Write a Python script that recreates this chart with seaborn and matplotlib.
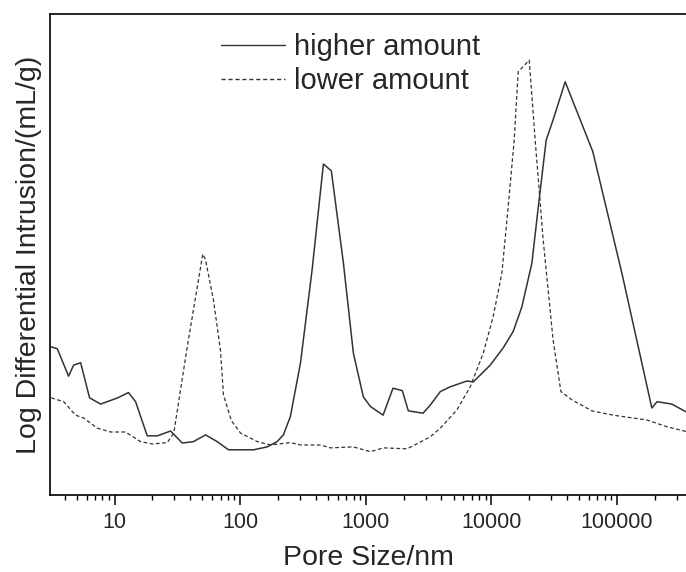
import numpy as np
import pandas as pd
import matplotlib
matplotlib.use("Agg")
import matplotlib.pyplot as plt
from matplotlib import ticker
import seaborn as sns

# pore size (nm) and log differential intrusion (arbitrary units)
high_x = [3.13, 3.50, 4.30, 4.72, 5.37, 6.32, 7.74, 10.6, 12.9, 14.7, 18.2, 21.9, 27.9,
          34.6, 42.5, 53.0, 65.6, 80.7, 110, 128, 164, 197, 221, 251, 302, 374, 460,
          532, 664, 797, 957, 1089, 1374, 1648, 1955, 2183, 2858, 3266, 3926, 4710,
          6397, 7178, 9795, 12440, 14930, 17500, 21040, 23610, 27350, 31050, 38730,
          64270, 109400, 189700, 208900, 273500, 355600]
high_y = [30.8, 30.4, 24.7, 27.0, 27.5, 20.2, 18.9, 20.2, 21.3, 19.4, 12.3, 12.3, 13.3,
          10.8, 11.1, 12.5, 11.1, 9.4, 9.4, 9.4, 10.0, 11.1, 12.5, 16.3, 27.4, 46.8, 68.8,
          67.4, 48.2, 29.5, 20.4, 18.4, 16.6, 22.2, 21.7, 17.5, 17.0, 18.7, 21.5, 22.5,
          23.7, 23.5, 27.0, 30.6, 34.0, 39.1, 48.2, 59.7, 73.8, 78.0, 85.9,
          71.4, 46.2, 18.1, 19.4, 18.9, 17.3]

low_x = [3.13, 3.93, 4.89, 5.67, 7.28, 9.29, 12.2, 16.1, 20.0, 26.3, 29.6, 37.9, 50.4,
         53.0, 61.3, 69.7, 73.6, 85.3, 100.5, 137, 174, 251, 302, 435, 523, 797, 1089,
         1380, 2132, 2718, 3266, 3926, 5324, 6792, 8630, 10350, 12140, 13620, 15210,
         16370, 20040, 22340, 25880, 31050, 35810, 43750, 63100, 93300, 173000,
         249500, 355600]
low_y = [20.2, 19.4, 16.6, 16.0, 13.9, 13.1, 13.1, 11.1, 10.6, 10.9, 12.9, 30.8, 50.1,
         48.9, 40.5, 30.1, 20.8, 15.4, 12.9, 11.1, 10.4, 10.9, 10.4, 10.4, 9.8, 10.0, 9.0,
         9.8, 9.6, 11.0, 12.1, 13.9, 17.7, 22.5, 29.5, 37.1, 46.2, 59.9, 73.8,
         88.0, 90.4, 73.8, 53.0, 32.2, 21.5, 19.8, 17.5, 16.6, 15.6,
         14.2, 13.2]

labels = ["higher amount", "lower amount"]
major_ticks = [10, 100, 1000, 10000, 100000]

sns.set_style("ticks")
plt.rcParams["font.family"] = ["Liberation Sans", "DejaVu Sans"]

fig = plt.figure(figsize=(6.86, 5.72), dpi=100)
ax = fig.add_axes([50 / 686, 1 - 495 / 572, 636 / 686, 481 / 572])

df_high = pd.DataFrame({"x": high_x, "y": high_y})
df_low = pd.DataFrame({"x": low_x, "y": low_y})

sns.lineplot(data=df_high, x="x", y="y", ax=ax, color="#333333", linewidth=1.1,
             estimator=None, sort=False, label=labels[0])
sns.lineplot(data=df_low, x="x", y="y", ax=ax, color="#333333", linewidth=0.9,
             dashes=False, estimator=None, sort=False, label=labels[1])
ax.lines[1].set_dashes((3, 2))

ax.set_xscale("log")
ax.set_xlim(3.06, 355000)
ax.set_ylim(0, 100)

ax.xaxis.set_major_locator(ticker.FixedLocator(major_ticks))
ax.xaxis.set_major_formatter(ticker.FuncFormatter(lambda v, p: f"{int(round(v))}"))
ax.xaxis.set_minor_locator(ticker.LogLocator(base=10, subs=np.arange(2, 10), numticks=20))
ax.xaxis.set_minor_formatter(ticker.NullFormatter())
ax.tick_params(axis="x", which="major", length=7, width=1.1, direction="out",
               labelsize=15.5, color="black", pad=5)
ax.tick_params(axis="x", which="minor", length=3.5, width=1.0, direction="out", color="black")
ax.set_yticks([])

for side in ["left", "bottom", "top"]:
    ax.spines[side].set_color("black")
    ax.spines[side].set_linewidth(1.2)
ax.spines["right"].set_visible(False)

ax.set_xlabel("Pore Size/nm", fontsize=20.5, labelpad=9)
ax.set_ylabel("Log Differential Intrusion/(mL/g)", fontsize=20.5, labelpad=6)

leg = ax.legend(loc="upper left", bbox_to_anchor=(221 / 686, 1 - 33 / 572),
                bbox_transform=fig.transFigure, frameon=False, fontsize=21,
                borderpad=0, borderaxespad=0, handlelength=2.2, handletextpad=0.3,
                labelspacing=0.22)
for h in leg.get_lines():
    h.set_linewidth(1.0)

fig.savefig("out.png", dpi=100)
